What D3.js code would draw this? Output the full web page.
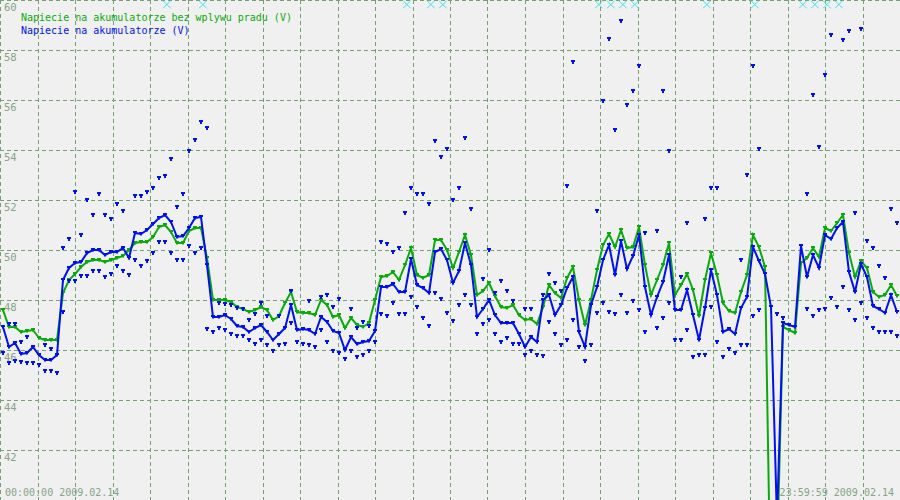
<!DOCTYPE html>
<html>
<head>
<meta charset="utf-8">
<script src="https://cdn.jsdelivr.net/npm/d3@7"></script>
<style>
  html, body { margin: 0; padding: 0; background: #f0f0f0; }
  svg { display: block; }
</style>
</head>
<body>
<svg id="chart" width="900" height="500"></svg>
<script>
// ---- data (one sample every ~9.6 min, 150 samples over the day) ----
const seriesNames = ["Napiecie na akumulatorze bez wplywu pradu (V)", "Napiecie na akumulatorze (V)"];
const greenValues = [
  47.60,46.92,46.92,46.72,46.76,46.80,46.48,46.40,46.40,46.40,
  48.28,48.80,49.04,49.32,49.52,49.60,49.60,49.52,49.60,49.68,
  49.76,50.00,50.28,50.32,50.32,50.52,50.92,51.00,50.72,50.28,
  50.28,50.76,50.88,50.88,49.68,48.00,48.00,48.00,47.92,47.72,
  47.64,47.52,47.60,47.72,47.60,47.20,47.36,47.88,48.32,47.52,
  47.48,47.48,47.40,48.00,47.80,47.32,47.40,46.88,47.28,47.00,
  46.92,47.08,48.00,48.92,48.96,49.12,48.80,49.40,50.08,49.00,
  48.88,49.00,50.40,50.40,50.00,49.28,49.92,50.60,49.80,48.20,
  48.36,48.68,48.16,47.72,47.68,47.80,47.40,47.20,47.24,47.04,
  47.72,48.60,48.28,48.08,48.88,49.32,48.00,47.00,48.00,49.20,
  50.20,50.64,50.12,50.80,50.08,50.12,50.92,49.40,48.20,48.80,
  49.40,50.28,48.20,48.60,49.04,48.40,47.36,48.80,49.88,49.00,
  47.88,47.56,47.48,48.32,49.00,50.60,50.12,49.32,35.20,37.60,
  46.92,46.80,46.68,49.48,49.68,50.08,49.72,50.88,50.76,51.08,
  51.40,49.88,48.92,49.56,49.28,48.32,48.12,48.20,48.60,48.16
];
const blueValues = [
  46.92,46.12,46.28,45.84,45.88,46.12,45.80,45.60,45.60,45.80,
  48.80,49.28,49.48,49.52,49.88,50.00,50.00,49.80,49.92,49.92,
  50.08,49.68,50.68,50.64,50.80,51.04,51.28,51.40,51.12,50.52,
  50.56,50.88,51.28,51.32,49.40,47.32,47.32,47.40,47.24,46.96,
  46.92,46.72,46.88,47.00,46.72,46.40,46.64,46.88,47.80,46.80,
  46.84,46.80,46.64,47.32,47.12,46.76,46.68,46.00,46.52,46.24,
  46.32,46.36,46.76,48.52,48.52,48.64,48.32,48.32,49.64,48.60,
  48.48,48.28,49.92,50.04,49.60,48.68,49.16,50.28,49.40,47.32,
  47.64,48.00,47.40,47.08,47.08,47.08,46.64,46.12,46.52,46.32,
  48.00,48.20,47.40,47.80,48.48,48.92,46.72,46.12,47.80,48.52,
  49.60,50.20,49.00,50.36,49.24,49.76,50.60,48.52,47.40,48.12,
  48.72,49.80,47.60,47.60,48.40,47.40,46.40,47.68,49.20,48.20,
  46.72,46.84,46.64,47.68,48.12,50.12,49.56,49.04,47.72,39.20,
  47.08,47.00,46.92,50.16,48.92,49.80,49.28,50.60,50.44,50.88,
  51.12,49.12,48.32,49.44,48.92,47.76,47.64,47.48,48.20,47.52
];
const blueMax = [
  null,47.04,47.04,46.32,46.52,null,null,46.20,46.04,null,
  50.08,50.44,52.32,50.60,52.00,51.40,52.24,51.40,51.24,51.84,
  51.56,null,52.16,52.16,52.32,52.48,52.88,52.96,53.64,51.72,
  52.24,53.96,54.40,55.12,54.88,null,47.88,47.84,47.80,47.68,
  47.64,47.20,47.44,47.88,47.36,null,47.36,null,48.36,null,
  null,47.96,null,48.12,48.20,47.72,48.04,null,47.64,46.88,
  47.12,46.96,null,50.32,50.24,49.92,50.08,51.48,52.48,52.24,
  52.24,51.84,54.36,53.72,54.04,52.00,52.48,54.48,51.64,null,
  48.84,50.00,48.28,48.76,48.36,47.96,null,47.64,47.64,null,
  48.20,49.04,48.68,48.36,52.56,57.52,null,null,null,51.56,
  55.96,58.44,54.80,59.16,55.80,56.36,57.36,50.68,null,50.76,
  56.36,53.96,null,48.92,51.08,null,null,51.24,52.48,52.48,
  null,null,null,49.60,53.00,57.36,54.04,null,null,null,
  null,null,null,null,52.24,56.20,54.12,57.00,58.60,null,
  58.40,58.76,51.48,58.84,50.36,50.08,49.36,48.88,51.64,51.08
];
const blueMin = [
  45.88,45.48,45.56,45.52,45.48,45.48,45.40,45.16,45.16,45.08,
  47.52,48.76,48.76,48.96,48.96,49.16,49.16,48.92,49.04,49.36,
  49.16,49.00,49.60,49.36,49.56,49.88,50.32,50.32,49.88,49.60,
  49.60,50.16,49.88,50.08,46.84,46.72,46.88,46.80,46.64,46.56,
  46.56,46.40,46.24,46.40,46.20,45.96,46.20,46.24,47.08,46.32,
  46.24,46.20,46.12,46.80,46.32,45.96,45.88,45.64,45.96,45.72,
  45.80,45.96,46.32,47.44,47.36,47.88,47.44,47.44,48.12,47.72,
  47.28,46.96,48.28,48.04,47.48,47.16,47.80,48.20,47.80,46.64,
  47.04,47.20,46.64,46.32,46.48,46.24,46.24,45.80,45.96,45.80,
  45.76,47.12,46.64,46.20,46.40,47.20,46.12,45.56,46.20,47.48,
  47.88,47.52,47.44,48.20,47.48,47.96,47.60,46.72,null,46.88,
  47.28,47.88,46.40,46.40,46.80,45.72,45.80,45.80,47.72,46.32,
  45.72,46.04,45.88,46.20,46.20,47.36,47.60,null,null,47.44,
  47.28,null,null,null,47.64,47.36,47.60,47.64,48.08,47.72,
  48.52,47.60,47.20,47.88,47.28,46.88,46.72,46.72,46.72,46.56
];
// times (hours) where an off-scale value is flagged with a cross at the top
const overflowHours = [4.45,5.41,10.85,11.49,11.81,15.97,16.29,16.61,16.93,18.85,20.13,21.41,21.73,22.05,22.37];
const yTickValues = [60,58,56,54,52,50,48,46,44,42];
const hourTicks = d3.range(0, 24);
const startLabel = "00:00:00 2009.02.14";
const endLabel = "23:59:59 2009.02.14";

// ---- drawing ----
const W = 900, H = 500;
const svg = d3.select("#chart");
const xIdx = d3.scaleLinear().domain([-0.5, greenValues.length - 0.5]).range([0, W]);
const xHour = d3.scaleLinear().domain([0, 24]).range([0, W]);
const y = d3.scaleLinear().domain([40, 60]).range([H, 0]);

const gridColor = "#74a074";
const labelColor = "#86a486";
const green = "#0aaa0a";
const blue = "#0010f0";
const font = "'DejaVu Sans Mono', 'Liberation Mono', monospace";

svg.append("rect").attr("width", W).attr("height", H).attr("fill", "#f0f0f0");

// grid via axes
const gx = svg.append("g").call(
  d3.axisTop(xHour).tickValues(hourTicks).tickSize(-H).tickFormat("")
);
const gy = svg.append("g").call(
  d3.axisLeft(y).tickValues(yTickValues).tickSize(-W).tickFormat("")
);
[gx, gy].forEach(g => {
  g.select(".domain").remove();
  g.selectAll(".tick line")
    .attr("stroke", gridColor)
    .attr("stroke-width", 1)
    .attr("stroke-dasharray", "4,3")
    .attr("shape-rendering", "crispEdges");
});
gx.selectAll(".tick").attr("transform", d => `translate(${Math.round(xHour(d)) + 0.5},0)`);
gy.selectAll(".tick").attr("transform", d => `translate(0,${Math.round(y(d)) + 0.5})`);

// y labels
svg.append("g").selectAll("text").data(yTickValues).join("text")
  .attr("x", 4).attr("y", d => y(d) + 11)
  .attr("font-family", font).attr("font-size", 10.5)
  .attr("fill", labelColor).text(d => d);

// overflow crosses
const xs = svg.append("g").attr("stroke", "#3fe3ee").attr("stroke-width", 1).attr("fill", "none");
xs.selectAll("path").data(overflowHours).join("path")
  .attr("d", d => {
    const cx = xHour(d), cy = 4.5, r = 3.8;
    return `M${cx - r},${cy - r}L${cx + r},${cy + r}M${cx + r},${cy - r}L${cx - r},${cy + r}`;
  });

const marker = "M-2,-2h4v2h-1v1.5h-2v-1.5h-1z";

function drawSeries(values, color) {
  const line = d3.line().x((d, i) => xIdx(i)).y(d => y(d));
  svg.append("path").datum(values)
    .attr("fill", "none").attr("stroke", color).attr("stroke-width", 2)
    .attr("stroke-linejoin", "miter")
    .attr("d", line);
  svg.append("g").selectAll("path").data(values).join("path")
    .attr("transform", (d, i) => `translate(${xIdx(i)},${y(d)})`)
    .attr("d", marker).attr("fill", color);
}
drawSeries(greenValues, green);
drawSeries(blueValues, blue);

function drawDots(values, color) {
  svg.append("g").selectAll("path")
    .data(values.map((v, i) => ({ v, i })).filter(d => d.v !== null))
    .join("path")
    .attr("transform", d => `translate(${Math.round(xIdx(d.i))},${Math.round(y(d.v))})`)
    .attr("d", marker).attr("fill", color)
    .attr("shape-rendering", "crispEdges");
}
drawDots(blueMax, blue);
drawDots(blueMin, blue);

// legend
const legend = svg.append("g").attr("font-family", font).attr("font-size", 10);
legend.append("text").attr("x", 21).attr("y", 21).attr("fill", green).text(seriesNames[0]);
legend.append("text").attr("x", 21).attr("y", 34).attr("fill", blue).text(seriesNames[1]);

// time labels
svg.append("text").attr("x", 5).attr("y", 496)
  .attr("font-family", font).attr("font-size", 10).attr("fill", labelColor).text(startLabel);
svg.append("text").attr("x", 894).attr("y", 496).attr("text-anchor", "end")
  .attr("font-family", font).attr("font-size", 10).attr("fill", labelColor).text(endLabel);
</script>
</body>
</html>
